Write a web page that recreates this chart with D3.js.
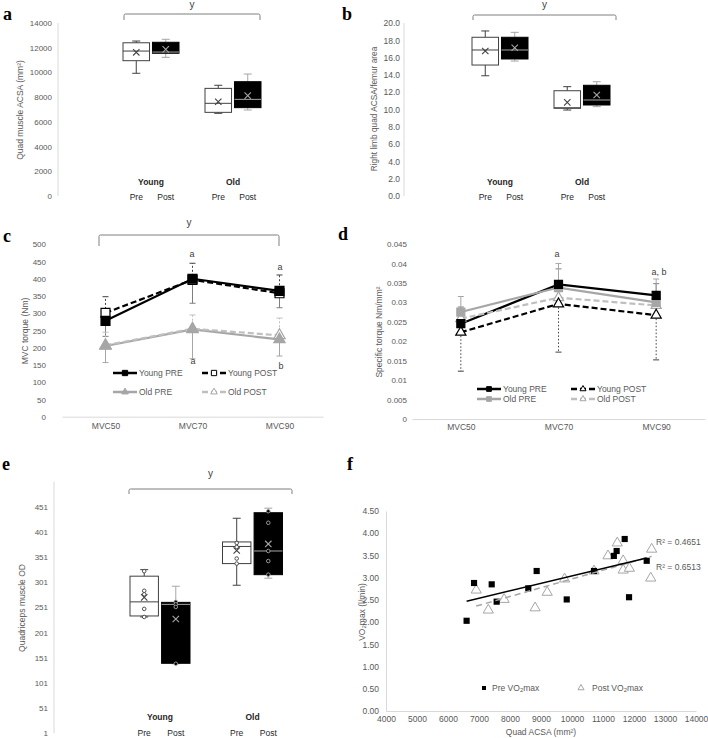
<!DOCTYPE html>
<html><head><meta charset="utf-8">
<script src="https://cdn.jsdelivr.net/npm/d3@7"></script>
<style>body{margin:0;background:#fff}svg{display:block}</style>
</head><body>
<svg id="chart" width="708" height="738"></svg>
<script>
// ---------------- DATA ----------------
const groups = ["Young", "Old"];
const times = ["Pre", "Post"];
// box order: Young Pre, Young Post, Old Pre, Old Post
const acsaMin    = [9930, 11220, 6690, 6960];
const acsaQ1     = [10950, 11550, 6770, 7150];
const acsaMedian = [11730, 11650, 7500, 7820];
const acsaQ3     = [12400, 12440, 8710, 9250];
const acsaMax    = [12540, 12680, 8960, 9870];
const acsaMean   = [11630, 11870, 7630, 8120];
const acsaTicks  = [0, 2000, 4000, 6000, 8000, 10000, 12000, 14000];

const ratioMin    = [13.9, 15.6, 9.94, 10.33];
const ratioQ1     = [15.14, 15.84, 10.14, 10.52];
const ratioMedian = [16.88, 16.88, 10.2, 11.1];
const ratioQ3     = [18.35, 18.35, 12.17, 12.8];
const ratioMax    = [19.08, 18.92, 12.64, 13.21];
const ratioMean   = [16.76, 17.14, 10.83, 11.68];
const ratioTicks  = [0, 2, 4, 6, 8, 10, 12, 14, 16, 18, 20];

const mvcLevels = ["MVC50", "MVC70", "MVC90"];
const torqueYoungPre  = [278, 400, 365];
const torqueYoungPost = [301, 397, 358];
const torqueOldPre    = [205, 253, 224];
const torqueOldPost   = [207, 255, 236];
const torqueYoungPreSD  = [45, 71, 49];
const torqueYoungPostSD = [47, 48, 53];
const torqueOldPreSD    = [48, 85, 48];
const torqueOldPostSD   = [38, 40, 50];
const torqueTicks = [0, 50, 100, 150, 200, 250, 300, 350, 400, 450, 500];

const specYoungPre  = [0.0245, 0.0346, 0.0318];
const specYoungPost = [0.0223, 0.0296, 0.0267];
const specOldPre    = [0.0275, 0.0338, 0.0300];
const specOldPost   = [0.0258, 0.0312, 0.0292];
const specYoungPreSD  = [0.0043, 0.0040, 0.0030];
const specYoungPostSD = [0.0100, 0.0124, 0.0115];
const specOldPreSD    = [0.0040, 0.0062, 0.0060];
const specTicks = [0, 0.005, 0.01, 0.015, 0.02, 0.025, 0.03, 0.035, 0.04, 0.045];

const odMin    = [232, 139, 295, 309];
const odQ1     = [234, 140, 338, 316];
const odMedian = [262, 257, 372, 363];
const odQ3     = [313, 261, 381, 439];
const odMax    = [326, 293, 428, 448];
const odMean   = [271, 228, 364, 377];
const odPointsYoungPre  = [323, 284, 277, 248, 232];
const odPointsYoungPost = [262, 257, 252, 139];
const odPointsOldPre    = [379, 371, 348, 338];
const odPointsOldPost   = [442, 419, 363, 343, 316];
const odTicks = [1, 51, 101, 151, 201, 251, 301, 351, 401, 451];

const preAcsa = [6600, 6840, 7410, 7570, 8590, 8860, 9830, 10710, 11350, 11440, 11700, 11840, 12410];
const preVO2  = [2.03, 2.88, 2.85, 2.46, 2.76, 3.15, 2.51, 3.15, 3.49, 3.60, 3.87, 2.56, 3.38];
const postAcsa = [6910, 7300, 7810, 8810, 9200, 9760, 10710, 11160, 11460, 11650, 11650, 11850, 12570, 12540];
const postVO2  = [2.72, 2.27, 2.51, 2.32, 2.67, 2.97, 3.15, 3.49, 3.78, 3.38, 3.17, 3.21, 3.64, 2.99];
const r2Labels = ["R² = 0.4651", "R² = 0.6513"];
const fXTicks = [4000, 5000, 6000, 7000, 8000, 9000, 10000, 11000, 12000, 13000, 14000];
const fYTicks = [0, 0.5, 1, 1.5, 2, 2.5, 3, 3.5, 4, 4.5];

// ---------------- HELPERS ----------------
const svg = d3.select("#chart");
const FONT = "'Liberation Sans', Arial, Helvetica, sans-serif";
const TICK = "#595959";
const AXIS = "#d9d9d9";

function txt(g, x, y, s, o = {}) {
  return g.append("text").attr("x", x).attr("y", y)
    .attr("font-family", o.family || FONT)
    .attr("font-size", o.size || 8)
    .attr("font-weight", o.weight || "normal")
    .attr("fill", o.fill || TICK)
    .attr("text-anchor", o.anchor || "middle")
    .attr("dominant-baseline", o.baseline || "central")
    .text(s);
}
function vlabel(x, y, s, size) {
  return svg.append("text").attr("transform", `translate(${x},${y}) rotate(-90)`)
    .attr("font-family", FONT).attr("font-size", size || 8).attr("fill", TICK)
    .attr("text-anchor", "middle").attr("dominant-baseline", "central").text(s);
}
function styleAxis(g, showDomain) {
  g.attr("font-family", FONT).attr("font-size", 8).attr("color", TICK);
  g.select(".domain").attr("stroke", AXIS).style("display", showDomain ? null : "none");
  g.selectAll(".tick line").remove();
}
function panelLabel(x, y, s) {
  txt(svg, x, y, s, {family: "'Liberation Serif', 'Times New Roman', serif", size: 18, weight: "bold", fill: "#000", anchor: "start", baseline: "auto"});
}
function bracket(x1, x2, yTop, yEnd, ly) {
  svg.append("path")
    .attr("d", `M${x1},${yEnd}V${yTop + 1.5}Q${x1},${yTop} ${x1 + 1.5},${yTop}H${x2 - 1.5}Q${x2},${yTop} ${x2},${yTop + 1.5}V${yEnd}`)
    .attr("fill", "none").attr("stroke", "#7f7f7f").attr("stroke-width", 1);
  txt(svg, (x1 + x2) / 2, ly, "y", {size: 10, fill: "#404040", baseline: "auto"});
}

// ---------------- BOX PANELS ----------------
function boxPanel(p) {
  const g = svg.append("g");
  const gx = d3.scaleBand().domain(groups).range(p.groupRange);
  const ix = d3.scaleBand().domain(times).range([-p.half, p.half]).paddingInner(p.gap);
  const y = d3.scaleLinear().domain(p.domain).range(p.yRange);
  const ax = g.append("g").attr("transform", `translate(${p.axisX},0)`)
    .call(d3.axisLeft(y).tickValues(p.ticks).tickSize(0).tickPadding(p.pad).tickFormat(p.fmt));
  styleAxis(ax, true);
  ax.select(".domain").attr("d", `M0,${y(p.domain[0])}V${y(p.domain[1])}`);
  if (p.axisFont) ax.attr("font-size", p.axisFont);

  const rows = d3.range(4).map(i => ({
    grp: groups[Math.floor(i / 2)], t: times[i % 2],
    min: p.min[i], q1: p.q1[i], med: p.med[i], q3: p.q3[i], max: p.max[i], mean: p.mean[i],
    pts: p.pts ? p.pts[i] : []
  }));
  rows.forEach(r => {
    const center = gx(r.grp) + gx.bandwidth() / 2;
    const x0 = center + ix(r.t), w = ix.bandwidth(), cx = x0 + w / 2;
    const post = r.t === "Post";
    const lc = post ? "#a6a6a6" : "#404040";
    g.append("line").attr("x1", cx).attr("x2", cx).attr("y1", y(r.q3)).attr("y2", y(r.max)).attr("stroke", lc);
    g.append("line").attr("x1", cx).attr("x2", cx).attr("y1", y(r.q1)).attr("y2", y(r.min)).attr("stroke", lc);
    [r.max, r.min].forEach(v => g.append("line").attr("x1", cx - 4).attr("x2", cx + 4)
      .attr("y1", y(v)).attr("y2", y(v)).attr("stroke", lc));
    g.append("rect").attr("x", x0).attr("width", w).attr("y", y(r.q3)).attr("height", y(r.q1) - y(r.q3))
      .attr("fill", post ? "#000" : "#fff").attr("stroke", post ? "#000" : "#404040").attr("stroke-width", 1);
    g.append("line").attr("x1", x0).attr("x2", x0 + w).attr("y1", y(r.med)).attr("y2", y(r.med)).attr("stroke", lc);
    g.selectAll(null).data(r.pts).join("circle").attr("cx", cx).attr("cy", d => y(d)).attr("r", 1.8)
      .attr("fill", post ? "#000" : "#fff").attr("stroke", lc).attr("stroke-width", 0.9);
    const my = y(r.mean), s = 3.2;
    g.append("path").attr("d", `M${cx - s},${my - s}L${cx + s},${my + s}M${cx - s},${my + s}L${cx + s},${my - s}`)
      .attr("stroke", lc).attr("stroke-width", 1.1);
    txt(g, cx, p.timeY, r.t, {size: 8.5, fill: "#262626"});
  });
  groups.forEach(gr => txt(g, gx(gr) + gx.bandwidth() / 2, p.catY, gr, {size: 8.5, weight: "bold", fill: "#262626"}));
}

boxPanel({groupRange: [110, 274], half: 28, gap: 0.1, domain: [0, 14000], yRange: [196, 23],
  ticks: acsaTicks, fmt: d3.format("d"), axisX: 58, pad: 6,
  min: acsaMin, q1: acsaQ1, med: acsaMedian, q3: acsaQ3, max: acsaMax, mean: acsaMean,
  catY: 182, timeY: 197});
vlabel(20, 110, "Quad muscle ACSA (mm²)", 8.5);

boxPanel({groupRange: [459, 623], half: 28, gap: 0.1, domain: [0, 20], yRange: [196, 23],
  ticks: ratioTicks, fmt: d3.format(".1f"), axisX: 404, pad: 4, axisFont: 8.5,
  min: ratioMin, q1: ratioQ1, med: ratioMedian, q3: ratioQ3, max: ratioMax, mean: ratioMean,
  catY: 182, timeY: 197});
vlabel(374, 109, "Right limb quad ACSA/femur area", 8.3);

boxPanel({groupRange: [113.75, 298.75], half: 30, gap: 0.1, domain: [1, 501], yRange: [733.3, 481.5],
  ticks: odTicks, fmt: d3.format("d"), axisX: 54, pad: 6,
  min: odMin, q1: odQ1, med: odMedian, q3: odQ3, max: odMax, mean: odMean,
  pts: [odPointsYoungPre, odPointsYoungPost, odPointsOldPre, odPointsOldPost],
  catY: 717, timeY: 733});
vlabel(22, 608, "Quadriceps muscle OD", 8.5);

// ---------------- LINE PANELS ----------------
function linePanel(p) {
  const g = svg.append("g");
  const x = d3.scalePoint().domain(mvcLevels).range(p.xRange).padding(0.5);
  const y = d3.scaleLinear().domain(p.domain).range(p.yRange);
  const ay = g.append("g").attr("transform", `translate(${p.xRange[0] - p.labelGap},0)`)
    .call(d3.axisLeft(y).tickValues(p.ticks).tickSize(0).tickPadding(0).tickFormat(p.fmt));
  styleAxis(ay, false);
  const ax = g.append("g").attr("transform", `translate(0,${p.yRange[0]})`)
    .call(d3.axisBottom(x).tickSize(0).tickPadding(p.xPad));
  styleAxis(ax, true);
  ax.attr("font-size", 8.5);

  p.series.forEach(s => {
    if (!s.sd) return;
    s.values.forEach((v, i) => {
      const e = v + s.errDir * s.sd[i];
      const cx = x(mvcLevels[i]);
      g.append("line").attr("x1", cx).attr("x2", cx).attr("y1", y(v)).attr("y2", y(e))
        .attr("stroke", s.errColor).attr("stroke-width", 1).attr("stroke-dasharray", s.errDash || null);
      g.append("line").attr("x1", cx - 3).attr("x2", cx + 3).attr("y1", y(e)).attr("y2", y(e))
        .attr("stroke", s.errColor).attr("stroke-width", 1);
    });
  });
  p.series.forEach(s => {
    const line = d3.line().x((d, i) => x(mvcLevels[i])).y(d => y(d));
    g.append("path").attr("d", line(s.values)).attr("fill", "none").attr("stroke", s.color)
      .attr("stroke-width", 2.2).attr("stroke-dasharray", s.dash || null);
  });
  p.markerOrder.map(i => p.series[i]).forEach(s => {
    g.selectAll(null).data(s.values).join("path")
      .attr("transform", (d, i) => `translate(${x(mvcLevels[i])},${y(d)})`)
      .attr("d", d3.symbol().type(s.symbol).size(s.size))
      .attr("fill", s.fill).attr("stroke", s.mstroke).attr("stroke-width", 1.2);
  });
  p.series.forEach((s, i) => {
    const col = i % 2, row = Math.floor(i / 2);
    const lx = p.legendX[col], ly = p.legendY[row];
    g.append("line").attr("x1", lx).attr("x2", lx + p.legendLen).attr("y1", ly).attr("y2", ly)
      .attr("stroke", s.color).attr("stroke-width", 2.5).attr("stroke-dasharray", s.dash || null);
    g.append("path").attr("transform", `translate(${lx + p.legendLen / 2},${ly})`)
      .attr("d", d3.symbol().type(s.symbol).size(s.size * 0.35))
      .attr("fill", s.fill).attr("stroke", s.mstroke).attr("stroke-width", 1);
    txt(g, lx + p.legendLen + 2, ly, s.name, {size: 8.5, anchor: "start"});
  });
  return {x, y, g};
}

const pc = linePanel({
  xRange: [62, 323], domain: [0, 500], yRange: [416.7, 244.3], ticks: torqueTicks, fmt: d3.format("d"),
  labelGap: 16, xPad: 6, markerOrder: [3, 1, 2, 0],
  series: [
    {name: "Young PRE", values: torqueYoungPre, sd: torqueYoungPreSD, errDir: -1, errColor: "#7f7f7f",
     color: "#000", symbol: d3.symbolSquare, size: 80, fill: "#000", mstroke: "#000"},
    {name: "Young POST", values: torqueYoungPost, sd: torqueYoungPostSD, errDir: 1, errColor: "#404040", errDash: "2,2",
     color: "#000", dash: "6,3", symbol: d3.symbolSquare, size: 80, fill: "#fff", mstroke: "#000"},
    {name: "Old PRE", values: torqueOldPre, sd: torqueOldPreSD, errDir: -1, errColor: "#a6a6a6",
     color: "#a6a6a6", symbol: d3.symbolTriangle, size: 55, fill: "#a6a6a6", mstroke: "#a6a6a6"},
    {name: "Old POST", values: torqueOldPost, sd: torqueOldPostSD, errDir: 1, errColor: "#bfbfbf", errDash: "2,2",
     color: "#bfbfbf", dash: "6,3", symbol: d3.symbolTriangle, size: 55, fill: "#fff", mstroke: "#a6a6a6"}
  ],
  legendX: [113, 202], legendY: [373, 392], legendLen: 24
});
txt(pc.g, 192, 254, "a", {size: 9, fill: "#404040"});
txt(pc.g, 280, 267, "a", {size: 9, fill: "#404040"});
txt(pc.g, 193, 361, "a", {size: 9, fill: "#404040"});
txt(pc.g, 281, 366, "b", {size: 9, fill: "#404040"});
vlabel(25, 331, "MVC torque (Nm)", 8.5);

const pd = linePanel({
  xRange: [412, 705], domain: [0, 0.045], yRange: [419, 244], ticks: specTicks, fmt: d3.format("~g"),
  labelGap: 5, xPad: 5, markerOrder: [3, 1, 2, 0],
  series: [
    {name: "Young PRE", values: specYoungPre, sd: specYoungPreSD, errDir: 1, errColor: "#7f7f7f",
     color: "#000", symbol: d3.symbolSquare, size: 64, fill: "#000", mstroke: "#000"},
    {name: "Young POST", values: specYoungPost, sd: specYoungPostSD, errDir: -1, errColor: "#404040", errDash: "1.5,2",
     color: "#000", dash: "6,3", symbol: d3.symbolTriangle, size: 45, fill: "#fff", mstroke: "#000"},
    {name: "Old PRE", values: specOldPre, sd: specOldPreSD, errDir: 1, errColor: "#a6a6a6",
     color: "#a6a6a6", symbol: d3.symbolSquare, size: 64, fill: "#a6a6a6", mstroke: "#a6a6a6"},
    {name: "Old POST", values: specOldPost, sd: null,
     color: "#bfbfbf", dash: "6,3", symbol: d3.symbolTriangle, size: 45, fill: "#fff", mstroke: "#a6a6a6"}
  ],
  legendX: [477, 571], legendY: [389, 399], legendLen: 24
});
txt(pd.g, 557, 254, "a", {size: 9, fill: "#404040"});
txt(pd.g, 659, 272, "a, b", {size: 9, fill: "#404040"});
vlabel(379, 332, "Specific torque Nm/mm²", 8.5);

// ---------------- SCATTER PANEL ----------------
(function () {
  const g = svg.append("g");
  const x = d3.scaleLinear().domain([4000, 14000]).range([386, 696]);
  const y = d3.scaleLinear().domain([0, 4.5]).range([711, 511]);
  const ay = g.append("g").attr("transform", "translate(386,0)")
    .call(d3.axisLeft(y).tickValues(fYTicks).tickSize(0).tickPadding(7).tickFormat(d3.format(".2f")));
  styleAxis(ay, true); ay.attr("font-size", 8.5);
  const ax = g.append("g").attr("transform", "translate(0,711)")
    .call(d3.axisBottom(x).tickValues(fXTicks).tickSize(0).tickPadding(5).tickFormat(d3.format("d")));
  styleAxis(ax, true); ax.attr("font-size", 8.5);

  const pre = preAcsa.map((v, i) => [v, preVO2[i]]);
  const post = postAcsa.map((v, i) => [v, postVO2[i]]);
  g.selectAll(null).data(post).join("path")
    .attr("transform", d => `translate(${x(d[0])},${y(d[1])})`)
    .attr("d", d3.symbol().type(d3.symbolTriangle).size(45))
    .attr("fill", "#fff").attr("stroke", "#a6a6a6").attr("stroke-width", 1);
  g.selectAll(null).data(pre).join("path")
    .attr("transform", d => `translate(${x(d[0])},${y(d[1])})`)
    .attr("d", d3.symbol().type(d3.symbolSquare).size(38))
    .attr("fill", "#000");

  function fit(pts) {
    const mx = d3.mean(pts, d => d[0]), my = d3.mean(pts, d => d[1]);
    const b = d3.sum(pts, d => (d[0] - mx) * (d[1] - my)) / d3.sum(pts, d => (d[0] - mx) ** 2);
    const a = my - b * mx;
    const [x0, x1] = d3.extent(pts, d => d[0]);
    return [[x0, a + b * x0], [x1, a + b * x1]];
  }
  const lf = d3.line().x(d => x(d[0])).y(d => y(d[1]));
  g.append("path").attr("d", lf(fit(post))).attr("stroke", "#a6a6a6").attr("stroke-width", 1.5)
    .attr("stroke-dasharray", "6,4").attr("fill", "none");
  g.append("path").attr("d", lf(fit(pre))).attr("stroke", "#000").attr("stroke-width", 1.5).attr("fill", "none");

  txt(g, 656, 542, r2Labels[0], {size: 8.5, anchor: "start"});
  txt(g, 656, 567, r2Labels[1], {size: 8.5, anchor: "start"});

  g.append("path").attr("transform", "translate(484,688)").attr("d", d3.symbol().type(d3.symbolSquare).size(16)).attr("fill", "#000");
  const t1 = txt(g, 492, 688, "", {size: 8.5, anchor: "start"});
  t1.append("tspan").text("Pre VO");
  t1.append("tspan").attr("font-size", 6).attr("dy", 2).text("2");
  t1.append("tspan").attr("dy", -2).text("max");
  g.append("path").attr("transform", "translate(581,688)").attr("d", d3.symbol().type(d3.symbolTriangle).size(16))
    .attr("fill", "#fff").attr("stroke", "#a6a6a6");
  const t2 = txt(g, 592, 688, "", {size: 8.5, anchor: "start"});
  t2.append("tspan").text("Post VO");
  t2.append("tspan").attr("font-size", 6).attr("dy", 2).text("2");
  t2.append("tspan").attr("dy", -2).text("max");

  txt(g, 541, 732, "Quad ACSA (mm²)", {size: 8.5});
  const yl = svg.append("text").attr("transform", "translate(362,612) rotate(-90)")
    .attr("font-family", FONT).attr("font-size", 8.5).attr("fill", TICK)
    .attr("text-anchor", "middle").attr("dominant-baseline", "central");
  yl.append("tspan").text("VO");
  yl.append("tspan").attr("font-size", 6).attr("dy", 2).text("2");
  yl.append("tspan").attr("dy", -2).text("max (l/min)");
})();

// ---------------- BRACKETS & PANEL LABELS ----------------
bracket(124, 260, 14, 20, 8);
bracket(473, 616, 15, 20, 8);
bracket(99, 279, 235, 246, 226);
bracket(129, 292, 489, 494, 477);

panelLabel(3, 20, "a");
panelLabel(342, 20, "b");
panelLabel(3, 242, "c");
panelLabel(338, 240, "d");
panelLabel(2, 470, "e");
panelLabel(347, 470, "f");
</script>
</body></html>
